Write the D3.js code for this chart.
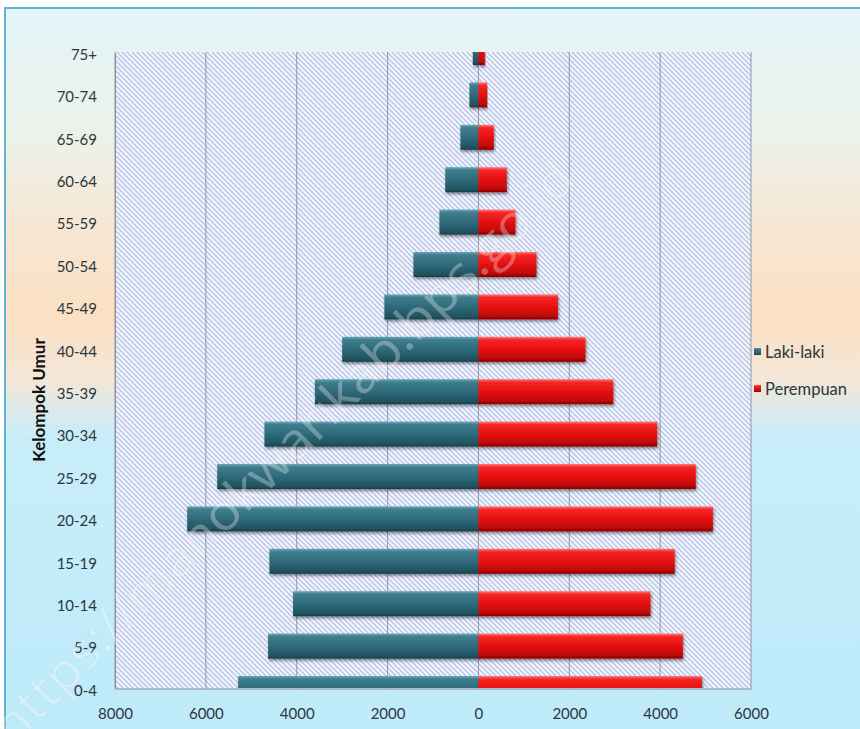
<!DOCTYPE html>
<html>
<head>
<meta charset="utf-8">
<script src="https://cdn.jsdelivr.net/npm/d3@7"></script>
<style>
  html, body { margin: 0; padding: 0; background: #ffffff; }
  svg { display: block; }
</style>
</head>
<body>
<script>
// ---- Data ----
const categories = ["0-4","5-9","10-14","15-19","20-24","25-29","30-34","35-39","40-44","45-49","50-54","55-59","60-64","65-69","70-74","75+"];
const lakiLaki  = [5290, 4630, 4080, 4600, 6410, 5750, 4710, 3600, 3000, 2070, 1430, 858, 730, 396, 198, 125];
const perempuan = [4920, 4500, 3786, 4320, 5160, 4784, 3935, 2968, 2355, 1750, 1277, 814, 625, 337, 191, 139];
const xTicks = [-8000, -6000, -4000, -2000, 0, 2000, 4000, 6000];
const seriesNames = ["Laki-laki", "Perempuan"];
const yTitle = "Kelompok Umur";
const watermark = "https://manokwarikab.bps.go.id";

const W = 860, H = 729;
const plot = { left: 115, right: 751, top: 52.5, bottom: 688.5 };
const FONT = "Lato, 'Open Sans', sans-serif";

const svg = d3.select("body").append("svg").attr("width", W).attr("height", H);
const defs = svg.append("defs");

// background gradient
const bg = defs.append("linearGradient").attr("id", "bg").attr("x1", 0).attr("y1", 0).attr("x2", 0).attr("y2", 1);
[["0%", "#e3f4f9"], ["18%", "#ecf1e8"], ["30%", "#f7e6d2"], ["42%", "#fbe0c2"], ["50%", "#f4e6d8"], ["58%", "#c8edf9"], ["100%", "#bdeafa"]]
  .forEach(([o, c]) => bg.append("stop").attr("offset", o).attr("stop-color", c));

// plot pattern
const pat = defs.append("pattern").attr("id", "pat").attr("patternUnits", "userSpaceOnUse")
  .attr("width", 5).attr("height", 5);
pat.append("rect").attr("width", 5).attr("height", 5).attr("fill", "#f3f5fc");
pat.append("path").attr("d", "M-1,-1 L6,6 M-1,4 L1,6 M4,-1 L6,1").attr("stroke", "#b6c3e6").attr("stroke-width", 1.3);

// bar gradients
function grad(id, stops) {
  const g = defs.append("linearGradient").attr("id", id).attr("x1", 0).attr("y1", 0).attr("x2", 0).attr("y2", 1);
  stops.forEach(([o, c]) => g.append("stop").attr("offset", o).attr("stop-color", c));
}
grad("gTeal", [["0%", "#6aa8b8"], ["12%", "#3f7e8e"], ["55%", "#2d6878"], ["90%", "#20525f"], ["100%", "#163e48"]]);
grad("gRed", [["0%", "#ff7a7a"], ["12%", "#f52626"], ["55%", "#e30d0d"], ["90%", "#b50606"], ["100%", "#8a0303"]]);

const shadow = defs.append("filter").attr("id", "sh").attr("x", "-10%").attr("y", "-30%").attr("width", "120%").attr("height", "160%");
shadow.append("feGaussianBlur").attr("in", "SourceAlpha").attr("stdDeviation", 1.5).attr("result", "b");
shadow.append("feOffset").attr("in", "b").attr("dx", 1).attr("dy", 2).attr("result", "o");
shadow.append("feComponentTransfer").attr("in", "o").attr("result", "o2")
  .append("feFuncA").attr("type", "linear").attr("slope", 0.45);
const fm = shadow.append("feMerge");
fm.append("feMergeNode").attr("in", "o2");
fm.append("feMergeNode").attr("in", "SourceGraphic");

defs.append("clipPath").attr("id", "clip").append("rect")
  .attr("x", plot.left).attr("y", plot.top - 0.5).attr("width", plot.right - plot.left).attr("height", plot.bottom - plot.top);

// frame
svg.append("rect").attr("x", 5).attr("y", 8).attr("width", W + 10).attr("height", H + 10)
  .attr("fill", "url(#bg)").attr("stroke", "#62b4cc").attr("stroke-width", 2);

// scales
const x = d3.scaleLinear().domain([xTicks[0], xTicks[xTicks.length - 1]]).range([plot.left, plot.right]);
const y = d3.scalePoint().domain(categories.slice().reverse()).range([plot.top, plot.bottom]);
const barH = 25;

// plot area
svg.append("rect").attr("x", plot.left).attr("y", plot.top - 0.5).attr("width", plot.right - plot.left)
  .attr("height", plot.bottom - plot.top).attr("fill", "url(#pat)");

// gridlines
svg.append("g").selectAll("line").data(xTicks).join("line")
  .attr("x1", d => x(d)).attr("x2", d => x(d)).attr("y1", plot.top - 0.5).attr("y2", plot.bottom)
  .attr("stroke", "#8d8f96").attr("stroke-width", 0.9);

// bars
const gBars = svg.append("g").attr("clip-path", "url(#clip)");
const rows = categories.map((c, i) => ({ c, m: lakiLaki[i], f: perempuan[i] }));
gBars.selectAll("rect.m").data(rows).join("rect").attr("class", "m")
  .attr("x", d => x(-d.m)).attr("width", d => x(0) - x(-d.m))
  .attr("y", d => y(d.c) - barH / 2).attr("height", barH)
  .attr("fill", "url(#gTeal)").attr("filter", "url(#sh)");
gBars.selectAll("rect.f").data(rows).join("rect").attr("class", "f")
  .attr("x", x(0)).attr("width", d => x(d.f) - x(0))
  .attr("y", d => y(d.c) - barH / 2).attr("height", barH)
  .attr("fill", "url(#gRed)").attr("filter", "url(#sh)");

// axes
const xAxis = svg.append("g").attr("transform", `translate(0,${plot.bottom})`)
  .call(d3.axisBottom(x).tickValues(xTicks).tickFormat(d => Math.abs(d)).tickSize(0).tickPadding(20));
xAxis.select(".domain").attr("stroke", "#8d8f96");
xAxis.selectAll("text").attr("font-family", FONT).attr("font-size", 15).attr("fill", "#2c363c");

const yAxis = svg.append("g").attr("transform", `translate(${plot.left},0)`)
  .call(d3.axisLeft(y).tickSize(0).tickPadding(18));
yAxis.select(".domain").attr("stroke", "#8d8f96");
yAxis.selectAll("text").attr("font-family", FONT).attr("font-size", 15).attr("fill", "#2c363c").attr("dy", "0.45em");

// y title
svg.append("text").attr("transform", "translate(39,400) rotate(-90)")
  .attr("text-anchor", "middle").attr("dy", "0.35em").attr("font-family", FONT).attr("font-weight", "bold")
  .attr("font-size", 17).attr("fill", "#111").text(yTitle);

// legend
const legY = [352, 389];
const legFill = ["url(#gTeal)", "url(#gRed)"];
seriesNames.forEach((n, i) => {
  svg.append("rect").attr("x", 754).attr("y", legY[i] - 4).attr("width", 7).attr("height", 7).attr("fill", legFill[i]);
  svg.append("text").attr("x", 765).attr("y", legY[i]).attr("dy", "0.35em")
    .attr("font-family", FONT).attr("font-size", 16.5).attr("fill", "#2c363c").text(n);
});

// watermark
svg.append("text").attr("transform", "translate(283,452) rotate(-45)")
  .attr("text-anchor", "middle").attr("dy", "0.35em")
  .attr("font-family", "'Open Sans', sans-serif").attr("font-size", 50)
  .attr("textLength", 800).attr("lengthAdjust", "spacingAndGlyphs")
  .attr("fill", "#ffffff").attr("fill-opacity", 0.3)
  .attr("stroke", "#9aa4b0").attr("stroke-opacity", 0.1).attr("stroke-width", 1)
  .text(watermark);
</script>
</body>
</html>
